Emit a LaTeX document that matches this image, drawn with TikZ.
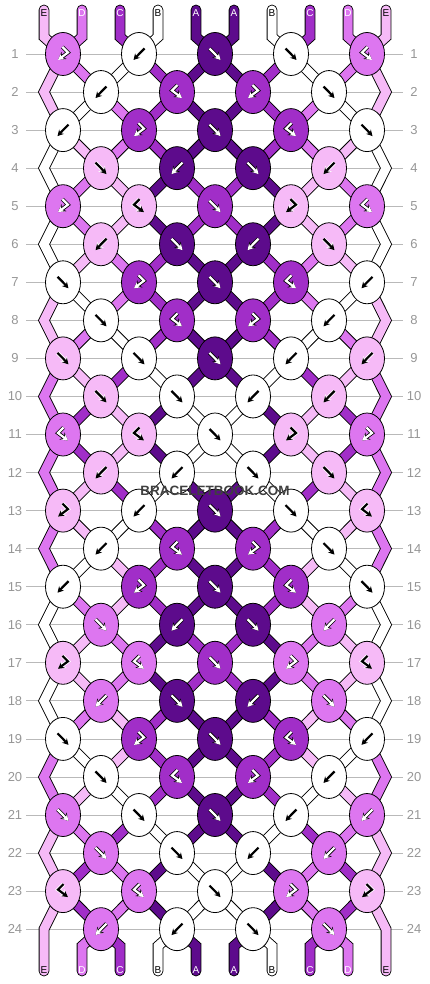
\documentclass[tikz,border=0pt]{standalone}
\usepackage{fontspec}
\setmainfont{Liberation Sans}
\usetikzlibrary{arrows.meta,shapes.geometric}

\definecolor{strA}{RGB}{93,11,140}
\definecolor{strB}{RGB}{255,255,255}
\definecolor{strC}{RGB}{161,46,200}
\definecolor{strD}{RGB}{221,118,240}
\definecolor{strE}{RGB}{246,186,247}
\colorlet{inkA}{white}\colorlet{inkC}{white}\colorlet{inkD}{white}
\colorlet{inkB}{black}\colorlet{inkE}{black}
\colorlet{haloA}{black}\colorlet{haloC}{black}\colorlet{haloD}{black}
\colorlet{haloB}{white}\colorlet{haloE}{white}
\definecolor{rowline}{RGB}{185,185,185}
\definecolor{numgray}{RGB}{150,150,150}
\definecolor{markgray}{RGB}{64,64,64}

\pgfdeclarelayer{grid}
\pgfdeclarelayer{strings}
\pgfsetlayers{grid,strings,main}

\tikzset{
  knot/.style={ellipse, draw=black, line width=0.8pt, fill=str#1,
    minimum width=35pt, minimum height=43pt, inner sep=0pt},
  strand/.style={draw=black, line width=0.9pt, double=str#1, double distance=9pt},
  strandend/.style={strand=#1, line cap=round},
  rownum/.style={text=numgray, font=\fontsize{13}{13}\selectfont},
  endlabel/.style={text=ink#1, font=\fontsize{10}{10}\selectfont, inner sep=0pt},
}

\def\mkf{f}\def\mkb{b}\def\mkfb{fb}\def\mkbf{bf}
% knot arrow: node, type (f, b, fb, bf), colour letter, mirror sign
\newcommand\knotmark[4]{%
  \edef\kt{#2}%
  \ifx\kt\mkf \def\xa{-5.5}\def\xb{0}\def\xc{5.5}\def\ya{-5.5}\def\yb{0}\fi
  \ifx\kt\mkb \def\xa{5.5}\def\xb{0}\def\xc{-5.5}\def\ya{-5.5}\def\yb{0}\fi
  \ifx\kt\mkfb \def\xa{0.5}\def\xb{-5}\def\xc{5}\def\ya{-7}\def\yb{-1.5}\fi
  \ifx\kt\mkbf \def\xa{-0.5}\def\xb{5}\def\xc{-5}\def\ya{-7}\def\yb{-1.5}\fi
  \draw[shift={(#1.center)}, draw=halo#3, line width=3.8pt,
    -{Stealth[length=7.5pt,width=8.5pt]}] (#4*\xa,\ya) -- (#4*\xb,\yb) -- (#4*\xc,6);
  \draw[shift={(#1.center)}, draw=ink#3, line width=2.2pt,
    -{Stealth[length=6pt,width=6.5pt]}] (#4*\xa,\ya) -- (#4*\xb,\yb) -- (#4*\xc,6);
}

\begin{document}
\begin{tikzpicture}[x=1pt, y=-1pt]
\useasboundingbox (0,0) rectangle (430,984);

% row lines and numbers
\foreach \r in {1,...,24}{
  \pgfmathsetmacro\y{54+38.05*(\r-1)}
  \begin{pgfonlayer}{grid}
    \draw[rowline, line width=0.8pt] (26,\y) -- (403,\y);
  \end{pgfonlayer}
  \node[rownum] (nl\r) at (15,\y) {\r};
  \node[rownum] (nr\r) at (414,\y) {\r};
}

% ends of the strings
\foreach \h/\sg in {L/-1,R/1}
  \foreach \i/\c in {1/E,2/D,3/C,4/B,5/A}{
    \pgfmathsetmacro\x{215+\sg*(209-38*\i)}
    \coordinate (\h t\i) at (\x,10);
    \coordinate (\h m\i) at (\x,37);
    \coordinate (\h n\i) at (\x,946);
    \coordinate (\h b\i) at (\x,971);
    \node[endlabel=\c] (\h top\i) at (\x,13) {\c};
    \node[endlabel=\c] (\h bot\i) at (\x,970) {\c};
  }

% odd rows: two knots each side and one in the middle
\foreach \r/\ca/\ta/\cb/\tb/\cc in {1/D/bf/B/b/A, 3/B/b/C/bf/A, 5/D/bf/E/fb/C,
    7/B/f/C/bf/A, 9/E/f/B/f/A, 11/D/fb/E/fb/B, 13/E/bf/B/b/A, 15/B/b/C/bf/A,
    17/E/bf/D/fb/C, 19/B/f/C/bf/A, 21/D/f/B/f/A, 23/E/fb/D/fb/B}{
  \pgfmathsetmacro\y{54+38.05*(\r-1)}
  \node[knot=\cc] (C\r) at (215,\y) {};
  \knotmark{C\r}{f}{\cc}{1}
  \foreach \h/\sg/\ms in {L/-1/1,R/1/-1}{
    \node[knot=\ca] (\h\r-1) at (215+\sg*152,\y) {};
    \node[knot=\cb] (\h\r-2) at (215+\sg*76,\y) {};
    \knotmark{\h\r-1}{\ta}{\ca}{\ms}
    \knotmark{\h\r-2}{\tb}{\cb}{\ms}
  }
}

% even rows: two knots each side
\foreach \r/\ca/\ta/\cb/\tb in {2/B/b/C/fb, 4/E/f/A/b, 6/E/b/A/f, 8/B/f/C/fb,
    10/E/f/B/f, 12/E/b/B/b, 14/B/b/C/fb, 16/D/f/A/b, 18/D/b/A/f,
    20/B/f/C/fb, 22/D/f/B/f, 24/D/b/B/b}{
  \pgfmathsetmacro\y{54+38.05*(\r-1)}
  \foreach \h/\sg/\ms in {L/-1/1,R/1/-1}{
    \coordinate (\h\r-e) at (215+\sg*171,\y);
    \node[knot=\ca] (\h\r-1) at (215+\sg*114,\y) {};
    \node[knot=\cb] (\h\r-2) at (215+\sg*38,\y) {};
    \knotmark{\h\r-1}{\ta}{\ca}{\ms}
    \knotmark{\h\r-2}{\tb}{\cb}{\ms}
  }
}

\begin{pgfonlayer}{strings}
\foreach \h in {L,R}{
  \draw[strandend=E] (\h t1) -- (\h m1) -- (\h1-1.center);
  \draw[strandend=D] (\h t2) -- (\h m2) -- (\h1-1.center);
  \draw[strandend=C] (\h t3) -- (\h m3) -- (\h1-2.center);
  \draw[strandend=B] (\h t4) -- (\h m4) -- (\h1-2.center);
  \draw[strandend=A] (\h t5) -- (\h m5) -- (C1.center);
}
% strings leaving each row, outermost first
\foreach \r/\pa/\pb/\pc/\pd/\pe in {1/E/D/B/C/A, 2/E/B/D/C/A, 3/B/E/D/C/A,
    4/B/D/E/A/C, 5/B/D/E/A/C, 6/B/E/D/C/A, 7/E/B/D/C/A, 8/E/D/B/C/A,
    9/D/E/C/B/A, 10/D/C/E/A/B, 11/D/C/E/A/B, 12/D/E/C/B/A, 13/D/E/B/C/A,
    14/D/B/E/C/A, 15/B/D/E/C/A, 16/B/E/D/A/C, 17/B/E/D/A/C, 18/B/D/E/C/A,
    19/D/B/E/C/A, 20/D/E/B/C/A, 21/E/D/C/B/A, 22/E/C/D/A/B, 23/E/C/D/A/B}{
  \pgfmathtruncatemacro\rn{\r+1}
  \pgfmathtruncatemacro\rnn{\r+2}
  \foreach \h in {L,R}{
    \ifodd\r
      \ifnum\r<23
        \draw[strand=\pa] (\h\r-1.center) -- (\h\rn-e) -- (\h\rnn-1.center);
      \else
        \draw[strandend=\pa] (\h\r-1.center) -- (\h\rn-e) -- (\h b1);
      \fi
      \draw[strand=\pb] (\h\r-1.center) -- (\h\rn-1.center);
      \draw[strand=\pc] (\h\r-2.center) -- (\h\rn-1.center);
      \draw[strand=\pd] (\h\r-2.center) -- (\h\rn-2.center);
      \draw[strand=\pe] (C\r.center) -- (\h\rn-2.center);
    \else
      \draw[strand=\pb] (\h\r-1.center) -- (\h\rn-1.center);
      \draw[strand=\pc] (\h\r-1.center) -- (\h\rn-2.center);
      \draw[strand=\pd] (\h\r-2.center) -- (\h\rn-2.center);
      \draw[strand=\pe] (\h\r-2.center) -- (C\rn.center);
    \fi
  }
}
\foreach \h in {L,R}{
  \draw[strandend=D] (\h24-1.center) -- (\h n2) -- (\h b2);
  \draw[strandend=C] (\h24-1.center) -- (\h n3) -- (\h b3);
  \draw[strandend=B] (\h24-2.center) -- (\h n4) -- (\h b4);
  \draw[strandend=A] (\h24-2.center) -- (\h n5) -- (\h b5);
}
\end{pgfonlayer}

\node[text=markgray, font=\bfseries\fontsize{13.5}{14}\selectfont] (mark) at (215,491)
  {BRACELETBOOK.COM};
\end{tikzpicture}
\end{document}
